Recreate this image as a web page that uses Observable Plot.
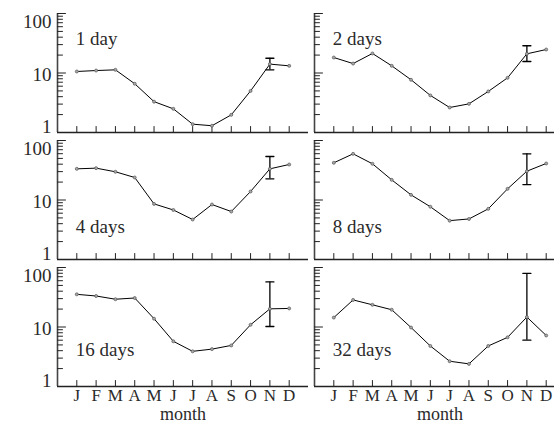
<!DOCTYPE html>
<html>
<head>
<meta charset="utf-8">
<script src="https://cdn.jsdelivr.net/npm/d3@7"></script>
<script src="https://cdn.jsdelivr.net/npm/@observablehq/plot@0.6"></script>
<style>
  html, body { margin: 0; padding: 0; background: white; overflow: hidden; }
  #chart svg, #chart svg text { font-family: "Liberation Serif", "DejaVu Serif", serif !important; }
</style>
</head>
<body>
<div id="chart"></div>
<script>
// ---- data ----
const months = ["J","F","M","A","M","J","J","A","S","O","N","D"];
const seriesLabels = ["1 day","2 days","4 days","8 days","16 days","32 days"];
const values1  = [10.6, 11.0, 11.3, 6.6, 3.3, 2.5, 1.38, 1.30, 1.98, 5.0, 14.1, 13.2];
const values2  = [18.2, 14.4, 21.3, 13.2, 7.7, 4.2, 2.63, 3.03, 4.9, 8.3, 21.0, 24.8];
const values4  = [33.4, 34.3, 29.8, 23.9, 8.6, 6.8, 4.7, 8.4, 6.4, 13.9, 33.4, 39.5];
const values8  = [42.2, 59.7, 40.6, 21.8, 12.2, 7.7, 4.5, 4.8, 7.1, 15.4, 30.5, 41.1];
const values16 = [35.4, 33.2, 29.3, 30.7, 13.8, 5.75, 3.9, 4.25, 4.9, 10.9, 20.2, 20.5];
const values32 = [14.4, 28.5, 23.6, 19.5, 9.8, 4.8, 2.66, 2.4, 4.8, 6.7, 14.7, 7.2];
const errMonth = 11; // November
const errLow  = [11.3, 15.6, 22.7, 18.2, 10.2, 6.0];
const errHigh = [17.7, 28.7, 53.8, 59.7, 57.2, 79.6];
const yMajor = [1, 10, 100];
const yMinor = [2,3,4,5,6,7,8,9,20,30,40,50,60,70,80,90];
const xLabel = "month";

// ---- tables ----
const series = [values1, values2, values4, values8, values16, values32];
const panels = seriesLabels.map((label, i) => ({label, col: i % 2, row: Math.floor(i / 2)}));
const points = [];
series.forEach((vals, i) => vals.forEach((v, m) => points.push({m: m + 1, v, s: i, col: i % 2, row: Math.floor(i / 2)})));
const errs = errLow.map((lo, i) => ({m: errMonth, lo, hi: errHigh[i], col: i % 2, row: Math.floor(i / 2)}));
const monthIdx = months.map((_, i) => i + 1);
const yLabels = [];
[0,1,2].forEach(r => yMajor.forEach(v => yLabels.push({v, row: r, col: 0})));
const xLabels = [];
[0,1].forEach(c => months.forEach((t, i) => xLabels.push({m: i + 1, t, col: c, row: 2})));
const axisTitles = [0,1].map(c => ({col: c, row: 2, t: xLabel}));

const seg = {draw(ctx, l) { ctx.moveTo(0, 0); ctx.lineTo(0, -l); }};
const font = "Liberation Serif, DejaVu Serif, serif";
const tc = "#2a2a2a";

const chart = Plot.plot({
  width: 565,
  height: 428,
  marginLeft: 57,
  marginRight: 0,
  marginTop: 12,
  marginBottom: 42,
  style: {maxWidth: "none", overflow: "visible", background: "white"},
  fx: {domain: [0, 1], axis: null, paddingInner: 6 / 257, paddingOuter: 0},
  fy: {domain: [0, 1, 2], axis: null, paddingInner: 0.063, paddingOuter: 0},
  x: {type: "linear", domain: [0, 13], axis: null},
  y: {type: "log", domain: [1, 100], axis: null},
  marks: [
    // axis lines
    Plot.ruleX([0], {stroke: "#444", strokeWidth: 1.6}),
    Plot.ruleY([1], {stroke: "#222", strokeWidth: 1.6}),
    // inward ticks
    Plot.vector(monthIdx, {x: d => d, frameAnchor: "bottom", length: 6, rotate: 0, anchor: "start", shape: seg, stroke: "#222", strokeWidth: 1}),
    Plot.vector(yMajor, {y: d => d, frameAnchor: "left", length: 8, rotate: 90, anchor: "start", shape: seg, stroke: "#222", strokeWidth: 1}),
    Plot.vector(yMinor, {y: d => d, frameAnchor: "left", length: 5, rotate: 90, anchor: "start", shape: seg, stroke: "#222", strokeWidth: 1}),
    // data
    Plot.line(points, {x: "m", y: "v", z: "s", fx: "col", fy: "row", stroke: "black", strokeWidth: 1}),
    Plot.ruleX(errs, {x: "m", y1: "lo", y2: "hi", fx: "col", fy: "row", stroke: "black", strokeWidth: 1.3}),
    Plot.vector(errs, {x: "m", y: "lo", fx: "col", fy: "row", length: 8, rotate: 90, anchor: "middle", shape: seg, stroke: "black", strokeWidth: 1.3}),
    Plot.vector(errs, {x: "m", y: "hi", fx: "col", fy: "row", length: 8, rotate: 90, anchor: "middle", shape: seg, stroke: "black", strokeWidth: 1.3}),
    Plot.dot(points, {x: "m", y: "v", fx: "col", fy: "row", r: 1.5, fill: "#aaa", stroke: "#555", strokeWidth: 0.7}),
    // panel labels
    Plot.text(panels, {x: 1, y: d => d.row === 0 ? 38 : d.row === 1 ? 3.5 : 4.1, fx: "col", fy: "row", text: "label", textAnchor: "start", dx: -1, fontSize: 19, fill: tc, fontFamily: font}),
    // y tick labels
    Plot.text(yLabels.filter(d => d.v === 100), {x: 0, y: "v", fx: "col", fy: "row", text: d => String(d.v), textAnchor: "end", dx: -6, dy: 8, fontSize: 19, fill: tc, fontFamily: font}),
    Plot.text(yLabels.filter(d => d.v === 10), {x: 0, y: "v", fx: "col", fy: "row", text: d => String(d.v), textAnchor: "end", dx: -6, dy: 2, fontSize: 19, fill: tc, fontFamily: font}),
    Plot.text(yLabels.filter(d => d.v === 1), {x: 0, y: "v", fx: "col", fy: "row", text: d => String(d.v), textAnchor: "end", dx: -6, dy: -6, fontSize: 19, fill: tc, fontFamily: font}),
    // x tick labels
    Plot.text(xLabels, {x: "m", fx: "col", fy: "row", frameAnchor: "bottom", text: "t", dy: 14, fontSize: 17, fill: tc, fontFamily: font}),
    Plot.text(axisTitles, {x: 6.5, fx: "col", fy: "row", frameAnchor: "bottom", text: "t", dy: 33, fontSize: 18, fill: tc, fontFamily: font})
  ]
});
document.getElementById("chart").appendChild(chart);
</script>
</body>
</html>
